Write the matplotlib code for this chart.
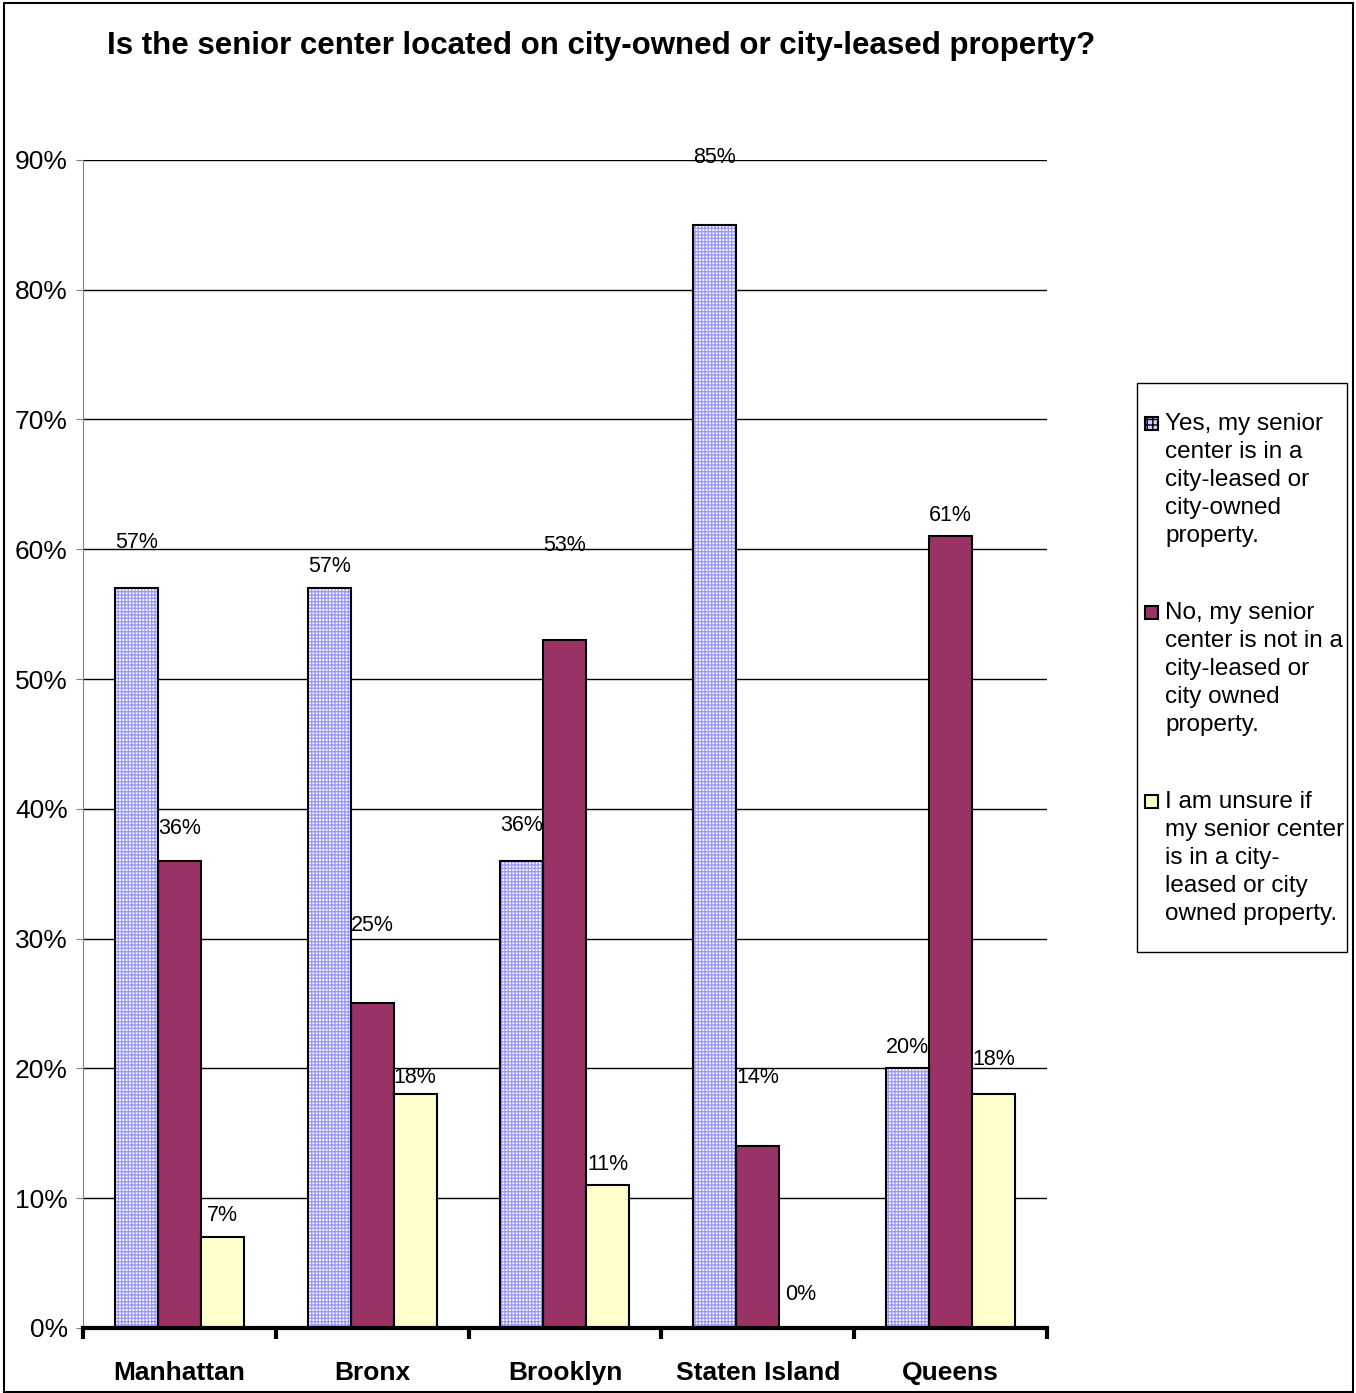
import numpy as np
import matplotlib.pyplot as plt
from matplotlib.patches import Rectangle
from matplotlib.ticker import PercentFormatter

# dane
dzielnice = ['Manhattan', 'Bronx', 'Brooklyn', 'Staten Island', 'Queens']
tak = [57, 57, 36, 85, 20]
nie = [36, 25, 53, 14, 61]
nie_wiem = [7, 18, 11, 0, 18]
etykiety = ['Yes, my senior\ncenter is in a\ncity-leased or\ncity-owned\nproperty.',
            'No, my senior\ncenter is not in a\ncity-leased or\ncity owned\nproperty.',
            'I am unsure if\nmy senior center\nis in a city-\nleased or city\nowned property.']

# przesuniecia etykiet danych (w punktach procentowych, jak w oryginale z Excela)
lift_tak = [3.5, 1.7, 2.7, 5.2, 1.6]
lift_nie = [2.5, 6.0, 7.3, 5.3, 1.6]
lift_nw = [1.7, 1.3, 1.6, 2.6, 2.7]

kolory = ['#ccccff', '#993366', '#FFFFCC']

plt.rcParams['font.family'] = ['Liberation Sans', 'DejaVu Sans']

fig = plt.figure(figsize=(13.56, 13.93), dpi=100)
ax = fig.add_axes([0.0612, 0.0467, 0.7109, 0.8385])

x = np.arange(len(dzielnice))
w = 0.223

# slupki "tak" - wzor kratki
ax.bar(x - w, tak, w, color='white', edgecolor='#9999ff', hatch='+++++', linewidth=0, zorder=3)
ax.bar(x - w, tak, w, color='none', edgecolor='black', linewidth=1.5, zorder=4)
ax.bar(x, nie, w, color=kolory[1], edgecolor='black', linewidth=1.5, zorder=3)
ax.bar(x + w, nie_wiem, w, color=kolory[2], edgecolor='black', linewidth=1.5, zorder=3)

for vals, lifts, off in [(tak, lift_tak, -w), (nie, lift_nie, 0), (nie_wiem, lift_nw, w)]:
    for i, (v, l) in enumerate(zip(vals, lifts)):
        ax.text(i + off, v + l, f'{v}%', ha='center', va='center', fontsize=15.5, zorder=5)

ax.set_xlim(-0.5, len(dzielnice) - 0.5)
ax.set_ylim(0, 90)
ax.set_yticks(np.arange(0, 91, 10))
ax.yaxis.set_major_formatter(PercentFormatter(decimals=0))
ax.grid(axis='y', color='black', linewidth=1, zorder=0)
ax.set_axisbelow(True)

ax.set_xticks(np.arange(-0.5, len(dzielnice)))
ax.set_xticklabels([])
ax.tick_params(axis='x', length=8, width=3, direction='out', color='black')
for i, d in enumerate(dzielnice):
    ax.text(i, -3.5, d, ha='center', va='center', fontsize=19, fontweight='bold')

ax.tick_params(axis='y', labelsize=19, length=5, color='#808080', pad=6)
for s in ['top', 'right']:
    ax.spines[s].set_visible(False)
ax.spines['left'].set_color('#808080')
ax.spines['bottom'].set_linewidth(3)
ax.spines['bottom'].set_zorder(6)

fig.text(0.443, 0.967, 'Is the senior center located on city-owned or city-leased property?',
         ha='center', va='center', fontsize=22.5, fontweight='bold')

# legenda rysowana recznie (kwadrat przy pierwszej linii tekstu)
W, H = 1356, 1393
fig.add_artist(Rectangle((1137 / W, 1 - 952 / H), 210 / W, 569 / H, transform=fig.transFigure,
                         fill=False, edgecolor='black', linewidth=1))
for k, txt in enumerate(etykiety):
    ytop = 413 + k * 189
    fig.add_artist(Rectangle((1145 / W, 1 - (ytop + 17) / H), 13 / W, 13 / H,
                             transform=fig.transFigure, facecolor=kolory[k],
                             edgecolor='black', linewidth=1.5,
                             hatch='+++' if k == 0 else None))
    fig.text(1165 / W, 1 - ytop / H, txt, ha='left', va='top', fontsize=17.5,
             linespacing=1.36)

fig.add_artist(Rectangle((0.003, 0.001), 0.995, 0.997, transform=fig.transFigure,
                         fill=False, edgecolor='black', linewidth=1.5))

fig.savefig('out.png', dpi=100)
